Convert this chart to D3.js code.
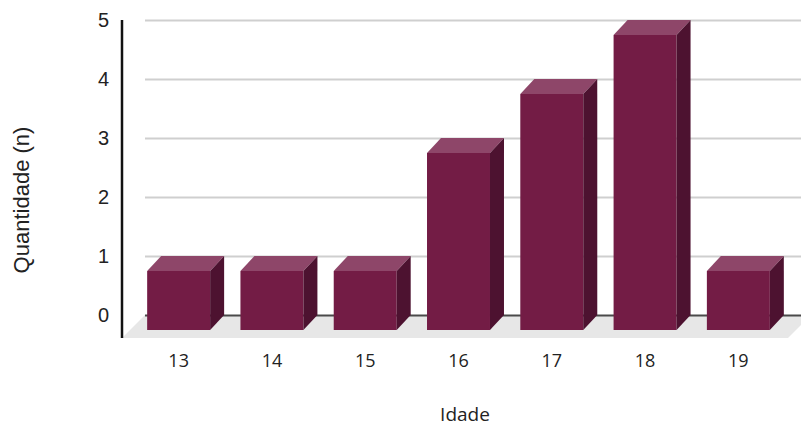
<!DOCTYPE html>
<html>
<head>
<meta charset="utf-8">
<script src="https://cdn.jsdelivr.net/npm/d3@7"></script>
<style>
  html, body { margin: 0; padding: 0; background: #ffffff; }
  svg { display: block; }
</style>
</head>
<body>
<svg id="chart" width="801" height="428"></svg>
<script>
// Ages and how many respondents had each age
const ages = ["13", "14", "15", "16", "17", "18", "19"];
const counts = [1, 1, 1, 3, 4, 5, 1];
const yTicks = [0, 1, 2, 3, 4, 5];
const xTitle = "Idade";
const yTitle = "Quantidade (n)";

const svg = d3.select("#chart");
const W = 801;

// Oblique depth of the pseudo-3D columns and of the floor
const depth = { dx: 14, dy: 15 };
const floorDepth = 23;

// Value scale lives on the back wall
const y = d3.scaleLinear().domain([0, 5]).range([315, 20]);
const x = d3.scaleBand().domain(ages).range([132, 785])
  .paddingInner(0.325).paddingOuter(0.1625);
const bw = x.bandwidth();

const wallLeft = 145;
const floorFront = y(0) + floorDepth;

// Floor
svg.append("polygon")
  .attr("points", [
    [wallLeft - floorDepth, floorFront],
    [x.range()[1] + 3, floorFront],
    [x.range()[1] + 3 + floorDepth, y(0)],
    [wallLeft, y(0)]
  ].map(p => p.join(",")).join(" "))
  .attr("fill", "#e7e7e7");

// Gridlines and value labels
const yAxis = svg.append("g")
  .attr("transform", `translate(${wallLeft},0)`)
  .call(d3.axisLeft(y).tickValues(yTicks).tickFormat(d3.format("d"))
    .tickSize(-(W - wallLeft)).tickPadding(36));
yAxis.select(".domain").remove();
yAxis.selectAll(".tick line")
  .attr("stroke", d => d === 0 ? "#4a4a4a" : "#cfcfcf")
  .attr("stroke-width", 2);
yAxis.selectAll(".tick text")
  .attr("font-family", "'Liberation Sans', Arial, sans-serif")
  .attr("font-size", 20)
  .attr("fill", "#222");

// Columns: front face, top face, right side face
const colors = { front: "#731c45", top: "#8e4669", side: "#4d1230" };
const bars = svg.append("g").selectAll("g")
  .data(ages.map((a, i) => ({ age: a, value: counts[i] })))
  .join("g");

const frontBottom = y(0) + depth.dy;
bars.append("rect")
  .attr("x", d => x(d.age))
  .attr("y", d => y(d.value) + depth.dy)
  .attr("width", bw)
  .attr("height", d => frontBottom - (y(d.value) + depth.dy))
  .attr("fill", colors.front);

bars.append("polygon")
  .attr("points", d => {
    const x0 = x(d.age), x1 = x0 + bw, yt = y(d.value) + depth.dy;
    return [[x0, yt], [x1, yt], [x1 + depth.dx, yt - depth.dy], [x0 + depth.dx, yt - depth.dy]]
      .map(p => p.join(",")).join(" ");
  })
  .attr("fill", colors.top);

bars.append("polygon")
  .attr("points", d => {
    const x1 = x(d.age) + bw, yt = y(d.value) + depth.dy;
    return [[x1, yt], [x1 + depth.dx, yt - depth.dy], [x1 + depth.dx, frontBottom - depth.dy], [x1, frontBottom]]
      .map(p => p.join(",")).join(" ");
  })
  .attr("fill", colors.side);

// Vertical axis line
svg.append("line")
  .attr("x1", 122).attr("x2", 122)
  .attr("y1", y(5)).attr("y2", floorFront)
  .attr("stroke", "#111").attr("stroke-width", 2.5);

// Category labels
const xAxis = svg.append("g")
  .attr("transform", "translate(0,354)")
  .call(d3.axisBottom(x).tickSize(0).tickPadding(0));
xAxis.select(".domain").remove();
xAxis.selectAll(".tick text")
  .attr("font-family", "'Open Sans', sans-serif")
  .attr("font-size", 18)
  .attr("fill", "#222");

// Axis titles
svg.append("text")
  .attr("x", 465).attr("y", 421)
  .attr("text-anchor", "middle")
  .attr("font-family", "'Open Sans', sans-serif")
  .attr("font-size", 19)
  .attr("fill", "#222")
  .text(xTitle);

svg.append("text")
  .attr("transform", "translate(29,200) rotate(-90)")
  .attr("text-anchor", "middle")
  .attr("font-family", "'Liberation Sans', Arial, sans-serif")
  .attr("font-size", 22)
  .attr("fill", "#222")
  .text(yTitle);
</script>
</body>
</html>
